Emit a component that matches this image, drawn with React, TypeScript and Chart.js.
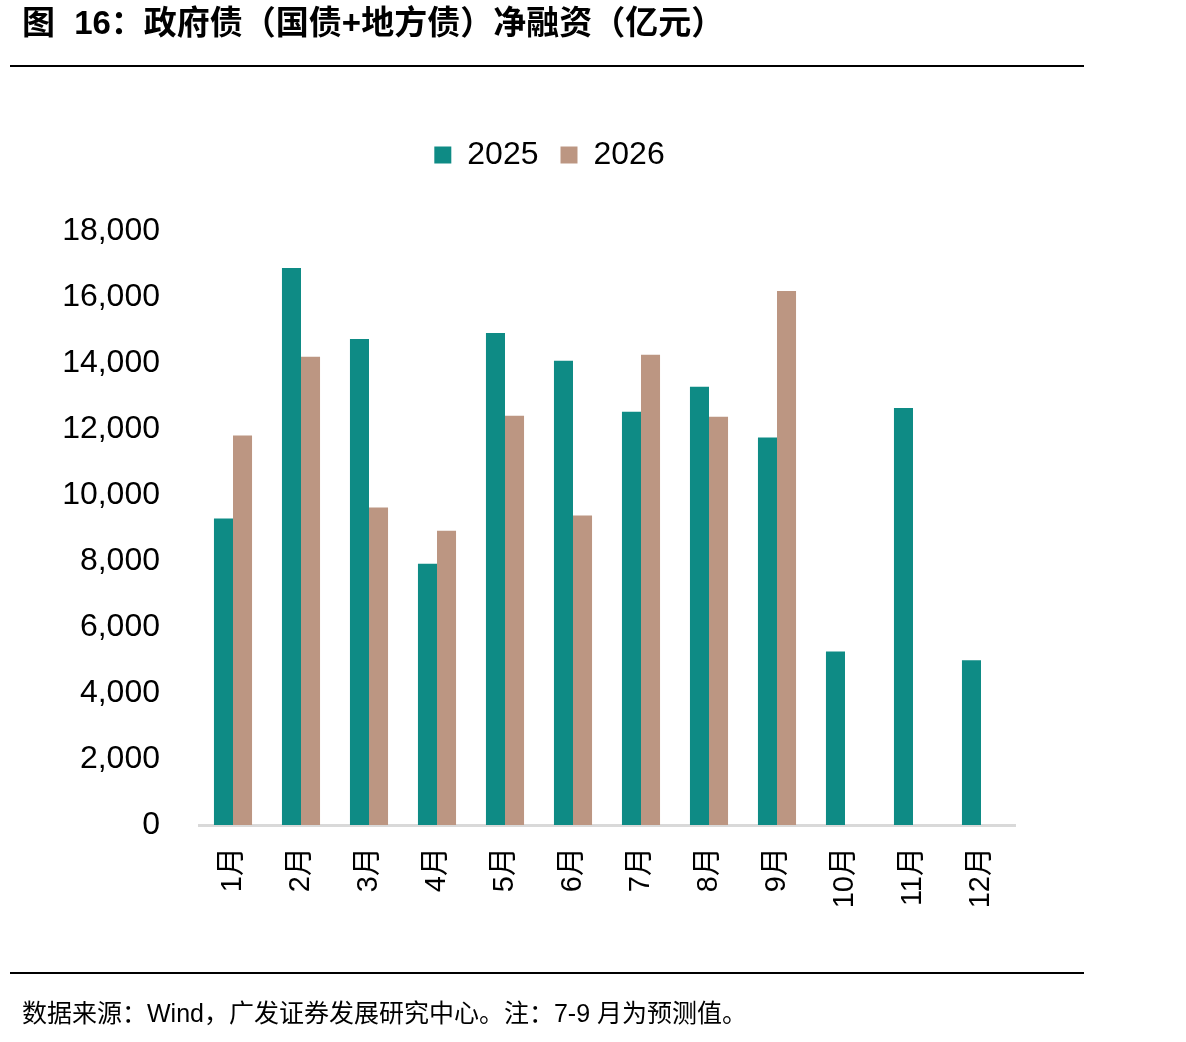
import React, { useEffect, useRef } from "react";
import { Chart, registerables } from "chart.js";

Chart.register(...registerables);

const months = ["1月", "2月", "3月", "4月", "5月", "6月", "7月", "8月", "9月", "10月", "11月", "12月"];
const series2025 = [9290, 16880, 14730, 7920, 14910, 14070, 12520, 13280, 11740, 5260, 12640, 4990];
const series2026 = [11800, 14190, 9620, 8920, 12400, 9380, 14250, 12370, 16180, null, null, null];
const seriesNames = ["2025", "2026"];
const seriesColors = ["#0E8B85", "#BC9682"];
const yTicks = [0, 2000, 4000, 6000, 8000, 10000, 12000, 14000, 16000, 18000];

const titleText = "图 16：政府债（国债+地方债）净融资（亿元）";
const sourceText = "数据来源：Wind，广发证券发展研究中心。注：7-9 月为预测值。";

const FONT = '"Liberation Sans", Arial, "Noto Sans CJK SC", sans-serif';
const MIXED = '"Liberation Sans", Arial, "Noto Sans CJK SC", sans-serif';

export default function App() {
  const ref = useRef<HTMLCanvasElement | null>(null);

  useEffect(() => {
    if (!ref.current) return;
    const legendShift = {
      id: "legendShift",
      afterLayout(chart: any) {
        const lg = chart.legend;
        if (!lg) return;
        const dx = 42;
        const dy = -50;
        lg.left += dx;
        lg.right += dx;
        lg.top += dy;
        lg.bottom += dy;
      },
    };
    const chart = new Chart(ref.current, {
      type: "bar",
      data: {
        labels: months,
        datasets: seriesNames.map((name, i) => ({
          label: name,
          data: i === 0 ? series2025 : series2026,
          backgroundColor: seriesColors[i],
          borderWidth: 0,
          categoryPercentage: 0.56,
          barPercentage: 1,
        })),
      },
      plugins: [legendShift],
      options: {
        responsive: false,
        animation: false,
        layout: { padding: { top: 167, right: 171, left: 0, bottom: 0 } },
        plugins: {
          legend: {
            display: true,
            position: "top",
            labels: {
              boxWidth: 17,
              boxHeight: 17,
              padding: 22,
              color: "#000",
              font: { family: FONT, size: 32 },
            },
          },
          tooltip: { enabled: false },
        },
        scales: {
          x: {
            grid: { display: false, drawTicks: false },
            border: { display: true, color: "#D9D9D9", width: 3 },
            ticks: {
              color: "#000",
              font: { family: FONT, size: 29 },
              minRotation: 90,
              maxRotation: 90,
              padding: 22,
            },
            afterFit: (scale: any) => {
              scale.height = 217;
            },
          },
          y: {
            min: 0,
            max: 18000,
            grid: { display: false, drawTicks: false },
            border: { display: false },
            afterBuildTicks: (scale: any) => {
              scale.ticks = yTicks.map((v) => ({ value: v }));
            },
            ticks: {
              color: "#000",
              font: { family: FONT, size: 32 },
              padding: 39,
              callback: (v: any) => Number(v).toLocaleString("en-US"),
            },
            afterFit: (scale: any) => {
              scale.width = 199;
            },
          },
        },
      },
    });
    return () => chart.destroy();
  }, []);

  return (
    <div style={{ position: "absolute", left: 0, top: 0, width: 1186, height: 1042, background: "#fff", overflow: "hidden" }}>
      <canvas ref={ref} width={1186} height={1042} style={{ position: "absolute", left: 0, top: 0, width: 1186, height: 1042 }} />
      <div style={{ position: "absolute", left: 22, top: 0, height: 46, lineHeight: "46px", fontFamily: MIXED, fontWeight: 700, fontSize: 33, wordSpacing: 10, color: "#000", whiteSpace: "pre" }}>
        {titleText}
      </div>
      <div style={{ position: "absolute", left: 10, top: 65, width: 1074, height: 2, background: "#000" }} />
      <div style={{ position: "absolute", left: 10, top: 972, width: 1074, height: 2, background: "#000" }} />
      <div style={{ position: "absolute", left: 22, top: 996, height: 34, lineHeight: "34px", fontFamily: MIXED, fontSize: 25, color: "#000", whiteSpace: "pre" }}>
        {sourceText}
      </div>
    </div>
  );
}
